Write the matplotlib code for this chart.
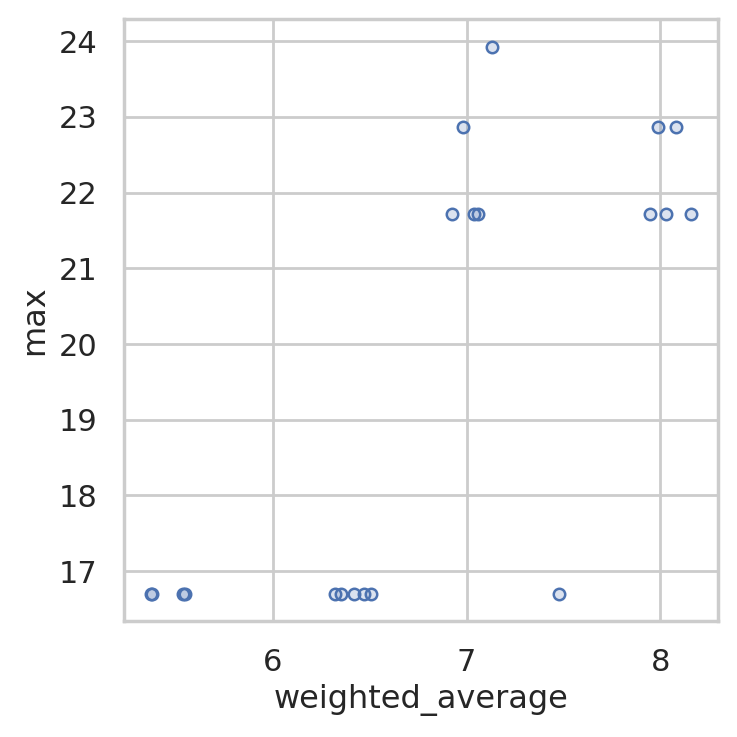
import matplotlib
matplotlib.use("Agg")
import matplotlib.pyplot as plt
import seaborn as sns
import numpy as np

sns.set_theme(style="whitegrid")

weighted_average = [5.370, 5.376, 5.535, 5.545, 6.321, 6.352, 6.418, 6.472, 6.507, 7.476,
                    6.923, 7.038, 7.060, 7.947, 8.031, 8.158,
                    6.983, 7.991, 8.079,
                    7.131]
max_vals = [16.70]*10 + [21.72]*6 + [22.87]*3 + [23.93]

fig, ax = plt.subplots(figsize=(3.685, 3.685), dpi=200)
ax.scatter(weighted_average, max_vals, s=17, facecolor=(0.298, 0.447, 0.690, 0.2),
           edgecolor="#4C72B0", linewidth=0.9)
ax.set_xlabel("weighted_average", fontsize=11.5, labelpad=2.8)
ax.set_ylabel("max", fontsize=11.5, labelpad=3.0)
ax.set_xticks([6, 7, 8])
fig.subplots_adjust(left=0.168, right=0.974, top=0.974, bottom=0.157)
fig.savefig("out.png", dpi=200)
